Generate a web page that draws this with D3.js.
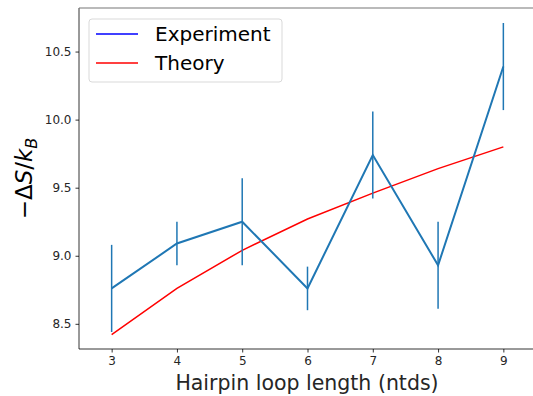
<!DOCTYPE html>
<html>
<head>
<meta charset="utf-8">
<script src="https://cdn.jsdelivr.net/npm/d3@7"></script>
<style>
  body { margin: 0; background: #fff; }
  text { font-family: "DejaVu Sans", sans-serif; }
</style>
</head>
<body>
<script>
// chart data
const loopLengths = [3, 4, 5, 6, 7, 8, 9];
const experiment = [8.76, 9.09, 9.25, 8.76, 9.74, 8.93, 10.39];
const experimentErr = [0.32, 0.16, 0.32, 0.16, 0.32, 0.32, 0.32];
const theory = [8.42, 8.76, 9.04, 9.27, 9.46, 9.64, 9.80];
const yTicks = [8.5, 9.0, 9.5, 10.0, 10.5];
const legendItems = [
    { label: 'Experiment', color: '#0000ff' },
    { label: 'Theory', color: '#ff0000' }
];

const DIM = { width: 533, height: 396, left: 79, right: 536, top: 8, bottom: 349 };

const svg = d3.select('body').append('svg')
    .attr('width', DIM.width)
    .attr('height', DIM.height);

const x = d3.scaleLinear().domain([2.5, 9.5]).range([DIM.left, DIM.right]);
const y = d3.scaleLinear().domain([8.315, 10.82]).range([DIM.bottom, DIM.top]);

// axes
const xAxis = svg.append('g')
    .attr('transform', `translate(0,${DIM.bottom})`)
    .call(d3.axisBottom(x).tickValues(loopLengths).tickFormat(d3.format('d')).tickSize(3.5).tickPadding(4));
const yAxis = svg.append('g')
    .attr('transform', `translate(${DIM.left},0)`)
    .call(d3.axisLeft(y).tickValues(yTicks).tickFormat(d3.format('.1f')).tickSize(3.5).tickPadding(4));

[xAxis, yAxis].forEach(g => {
    g.select('.domain').remove();
    g.selectAll('.tick line').attr('stroke', '#000').attr('stroke-width', 0.8);
    g.selectAll('.tick text').attr('fill', '#262626').style('font-size', '12px').style('font-family', '"DejaVu Sans", sans-serif');
});

// spines
svg.append('line').attr('x1', DIM.left).attr('x2', DIM.left).attr('y1', DIM.top).attr('y2', DIM.bottom)
    .attr('stroke', '#000').attr('stroke-width', 0.8);
svg.append('line').attr('x1', DIM.left).attr('x2', DIM.right).attr('y1', DIM.bottom).attr('y2', DIM.bottom)
    .attr('stroke', '#000').attr('stroke-width', 0.8);
svg.append('line').attr('x1', DIM.left).attr('x2', DIM.right).attr('y1', DIM.top).attr('y2', DIM.top)
    .attr('stroke', '#777').attr('stroke-width', 1.2);

// theory line
const line = d3.line().x((d, i) => x(loopLengths[i])).y(d => y(d));
svg.append('path').datum(theory)
    .attr('fill', 'none').attr('stroke', '#ff0000').attr('stroke-width', 1.5)
    .attr('d', line);

// experiment error bars + line
svg.append('g').selectAll('line').data(experiment).join('line')
    .attr('x1', (d, i) => x(loopLengths[i]))
    .attr('x2', (d, i) => x(loopLengths[i]))
    .attr('y1', (d, i) => y(d - experimentErr[i]))
    .attr('y2', (d, i) => y(d + experimentErr[i]))
    .attr('stroke', '#1f77b4').attr('stroke-width', 1.5);
svg.append('path').datum(experiment)
    .attr('fill', 'none').attr('stroke', '#1f77b4').attr('stroke-width', 2)
    .attr('d', line);

// legend
const legend = svg.append('g').attr('transform', 'translate(89,19)');
legend.append('rect')
    .attr('width', 193).attr('height', 63).attr('rx', 3)
    .attr('fill', '#fff').attr('fill-opacity', 0.8)
    .attr('stroke', '#d9d9d9').attr('stroke-width', 1);
legendItems.forEach((item, i) => {
    const yy = 15 + i * 29;
    legend.append('line')
        .attr('x1', 7).attr('x2', 49).attr('y1', yy).attr('y2', yy)
        .attr('stroke', item.color).attr('stroke-width', 1.5);
    legend.append('text')
        .attr('x', 66).attr('y', yy).attr('dy', '0.35em')
        .style('font-size', '20px').attr('fill', '#000')
        .text(item.label);
});

// axis labels
svg.append('text')
    .attr('x', 307).attr('y', 390)
    .attr('text-anchor', 'middle')
    .style('font-size', '20.5px').attr('fill', '#262626')
    .text('Hairpin loop length (ntds)');

const yLabel = svg.append('text')
    .attr('transform', `translate(32,${(DIM.top + DIM.bottom) / 2}) rotate(-90)`)
    .attr('text-anchor', 'middle')
    .style('font-size', '23px').attr('fill', '#000');
yLabel.append('tspan').text('\u2212\u0394');
yLabel.append('tspan').style('font-style', 'italic').text('S');
yLabel.append('tspan').text('/');
yLabel.append('tspan').style('font-style', 'italic').text('k');
yLabel.append('tspan').style('font-style', 'italic').style('font-size', '16px').attr('dy', 5).text('B');
</script>
</body>
</html>
